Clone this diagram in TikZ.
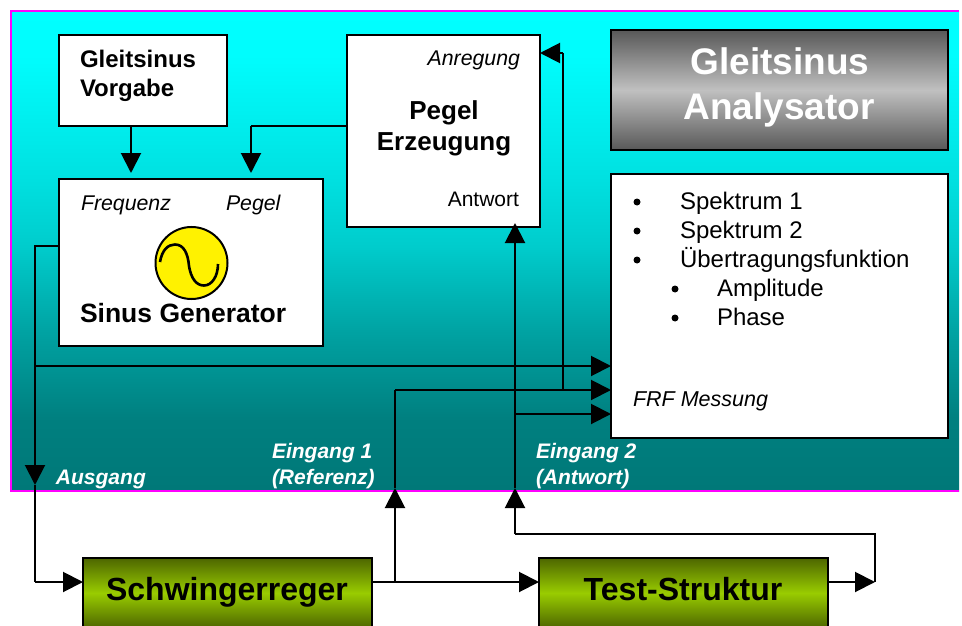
\documentclass[tikz,border=0pt]{standalone}
\usepackage{fontspec}
\setmainfont{Liberation Sans}
\usetikzlibrary{arrows.meta,calc}
\definecolor{panelEdge}{RGB}{255,0,255}
\definecolor{greyDark}{RGB}{88,88,88}
\definecolor{greyLight}{RGB}{192,192,192}
\definecolor{greenDark}{RGB}{77,102,0}
\definecolor{greenLight}{RGB}{153,204,0}
\pgfdeclareverticalshading{panelshade}{100bp}{
  rgb(0bp)=(0,0.47,0.47);
  rgb(25bp)=(0,0.47,0.47);
  rgb(32.5bp)=(0,0.50,0.50);
  rgb(41bp)=(0,0.627,0.627);
  rgb(50.5bp)=(0,0.80,0.80);
  rgb(57.5bp)=(0,0.88,0.88);
  rgb(70bp)=(0,0.99,0.99);
  rgb(75bp)=(0,1,1);
  rgb(100bp)=(0,1,1)}
\tikzset{
  wbox/.style={draw=black,line width=2pt,fill=white,anchor=north west,inner sep=0pt,outer sep=0pt},
  greybox/.style={draw=black,line width=2pt,anchor=north west,inner sep=0pt,outer sep=0pt,top color=greyDark,bottom color=greyDark,middle color=greyLight},
  greenbox/.style={draw=black,line width=2pt,anchor=north west,inner sep=0pt,outer sep=0pt,top color=greenDark,bottom color=greenDark,middle color=greenLight},
  conn/.style={draw=black,line width=2pt},
  head/.style={conn,-{Triangle[length=20pt,width=20pt,sep=0pt]},shorten >=0pt},
  txt/.style={anchor=base west,inner sep=0pt,outer sep=0pt,text=black},
  cen/.style={anchor=base,inner sep=0pt,outer sep=0pt,text=black},
  fs/.style={font=\fontsize{#1}{#1}\selectfont},
  fsb/.style={font=\fontsize{#1}{#1}\selectfont\bfseries},
  fsi/.style={font=\fontsize{#1}{#1}\selectfont\itshape},
  fsbi/.style={font=\fontsize{#1}{#1}\selectfont\bfseries\itshape},
}
\begin{document}
\begin{tikzpicture}[x=1pt,y=-1pt]
\useasboundingbox (0,0) rectangle (962,626);
% panel
\node[anchor=north west,inner sep=0pt,outer sep=0pt,minimum width=949pt,minimum height=480pt,shading=panelshade] (panel) at (10,11) {};
\draw[panelEdge,line width=2pt] (959,11) -- (11,11) -- (11,491) -- (959,491);
% boxes
\node[wbox,minimum width=168pt,minimum height=91pt] (vorgabe) at (59,35) {};
\node[wbox,minimum width=264pt,minimum height=167pt] (sinus) at (59,179) {};
\node[wbox,minimum width=193pt,minimum height=192pt] (pegel) at (347,35) {};
\node[greybox,minimum width=337pt,minimum height=120pt] (title) at (611,30) {};
\node[wbox,minimum width=337pt,minimum height=264pt] (frf) at (611,174) {};
\node[greenbox,minimum width=289pt,minimum height=70pt] (schw) at (83,558) {};
\node[greenbox,minimum width=289pt,minimum height=70pt] (test) at (539,558) {};
% junctions
\coordinate (jOut) at (35,366);
\coordinate (jAus) at (35,485);
\coordinate (jCorner) at (35,582);
\coordinate (jE1) at (395,582);
\coordinate (jE1tip) at (395,488);
\coordinate (jE1top) at (395,390);
\coordinate (jE2tip) at (515,488);
\coordinate (jE2low) at (515,534);
\coordinate (jR1) at (875,534);
\coordinate (jR2) at (875,582);
\coordinate (jA) at (563,53);
\coordinate (jB) at (563,390);
\coordinate (jC) at (515,414);
\coordinate (jP) at (251,126);
% connectors
\draw[head] (131,126) -- (131,173);
\draw[conn] (pegel.west |- jP) -- (jP);
\draw[head] (jP) -- (251,173);
\draw[conn] (sinus.west |- 0,246) -- (35,246) -- (jOut);
\draw[head] (jOut) -- (jAus);
\draw[conn] (jAus) -- (jCorner);
\draw[head] (jCorner) -- (schw.west |- jCorner);
\draw[head] (jOut) -- (frf.west |- jOut);
\draw[head] (schw.east |- jE1) -- (test.west |- jE1);
\draw[head] (jE1) -- (jE1tip);
\draw[conn] (jE1tip) -- (jE1top);
\draw[head] (jE1top) -- (frf.west |- jE1top);
\draw[head] (test.east |- jR2) -- (jR2);
\draw[conn] (jR2) -- (jR1) -- (jE2low);
\draw[head] (jE2low) -- (jE2tip);
\draw[head] (jE2tip) -- (515,223);
\draw[head] (jC) -- (frf.west |- jC);
\draw[conn] (jB) -- (jA);
\draw[head] (jA) -- (pegel.east |- jA);
% generator symbol
\node[draw=black,line width=2pt,fill=yellow,circle,minimum size=72pt,inner sep=0pt,outer sep=0pt] (gen) at (191.5,263) {};
\draw[conn,line width=2.6pt] (160,262) .. controls (162,250) and (168,244.5) .. (175,244.5) .. controls (184,244.5) and (188,254) .. (189,266) .. controls (191,278) and (196,285.5) .. (204,285.5) .. controls (212,285.5) and (218,276) .. (218,264);
% texts
\node[txt,fsb=24] (t1) at (80,67) {Gleitsinus};
\node[txt,fsb=24] (t2) at (80,96) {Vorgabe};
\node[txt,fsi=21.3] (t3) at (81,210) {Frequenz};
\node[txt,fsi=21.3] (t4) at (226,210) {Pegel};
\node[txt,fsb=26.5] (t5) at (80,322) {Sinus Generator};
\node[txt,fsi=21.3,anchor=base east] (t6) at (520,66) {Anregung};
\node[cen,fsb=26] (t7) at (444,119) {Pegel};
\node[cen,fsb=26] (t8) at (444,150) {Erzeugung};
\node[txt,fs=21,anchor=base east] (t9) at (519,206) {Antwort};
\node[cen,fsb=37,text=white] (t10) at (780,75) {Gleitsinus};
\node[cen,fsb=37,text=white] (t11) at (779,119) {Analysator};
\node[txt,fs=24] (t12) at (680,209) {Spektrum 1};
\node[txt,fs=24] (t13) at (680,238) {Spektrum 2};
\node[txt,fs=24] (t14) at (680,267) {Übertragungsfunktion};
\node[txt,fs=24] (t15) at (717,296) {Amplitude};
\node[txt,fs=24] (t16) at (717,325) {Phase};
\node[txt,fsi=21.5] (t17) at (633,406) {FRF Messung};
\node[txt,fsbi=21,text=white] (t18) at (272,458) {Eingang 1};
\node[txt,fsbi=21,text=white] (t19) at (272,484) {(Referenz)};
\node[txt,fsbi=21,text=white] (t20) at (56,484) {Ausgang};
\node[txt,fsbi=21,text=white] (t21) at (536,458) {Eingang 2};
\node[txt,fsbi=21,text=white] (t22) at (536,484) {(Antwort)};
\node[cen,fsb=32] (t23) at (227,600) {Schwingerreger};
\node[cen,fsb=32] (t24) at (683,600) {Test-Struktur};
% bullets
\foreach \n/\px/\py in {a/637/202,b/637/231,c/637/260,d/675/289,e/675/318}
  \node[fill=black,circle,minimum size=7pt,inner sep=0pt] (bul\n) at (\px,\py) {};
\end{tikzpicture}
\end{document}
